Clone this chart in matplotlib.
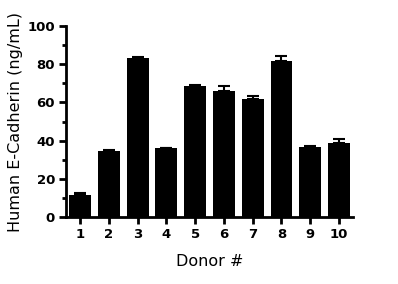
import numpy as np
import matplotlib
matplotlib.use("Agg")
import matplotlib.pyplot as plt
from matplotlib.ticker import MultipleLocator

donors = [1, 2, 3, 4, 5, 6, 7, 8, 9, 10]
means = [11.5, 34.7, 83.4, 36.0, 68.6, 66.0, 61.6, 81.5, 36.8, 38.6]
errs = [1.3, 0.4, 0.3, 0.2, 0.6, 2.4, 1.6, 2.6, 0.4, 2.2]

plt.rcParams["font.family"] = ["DejaVu Sans"]

fig = plt.figure(figsize=(3.98, 2.84), dpi=100)
ax = fig.add_axes([0.166, 0.236, 0.721, 0.672])

ax.bar(donors, means, width=0.76, color="black")
ax.errorbar(donors, means, yerr=[np.zeros(len(errs)), errs], fmt="none",
            ecolor="black", elinewidth=1.5, capsize=4, capthick=1.5)

ax.set_xlim(0.51, 10.49)
ax.set_ylim(0, 100)
ax.set_xticks(donors)
ax.yaxis.set_major_locator(MultipleLocator(20))
ax.yaxis.set_minor_locator(MultipleLocator(10))

for s in ["top", "right"]:
    ax.spines[s].set_visible(False)
for s in ["left", "bottom"]:
    ax.spines[s].set_linewidth(2)

ax.tick_params(axis="both", which="major", width=2, length=5, labelsize=9.5, pad=3)
ax.tick_params(axis="y", which="minor", width=2, length=3)
for lbl in ax.get_xticklabels() + ax.get_yticklabels():
    lbl.set_fontweight("bold")

ax.set_ylabel("Human E-Cadherin (ng/mL)", fontsize=11.5, labelpad=3)
ax.set_xlabel("Donor #", fontsize=11.5, labelpad=9)

fig.savefig("out.png", dpi=100)
